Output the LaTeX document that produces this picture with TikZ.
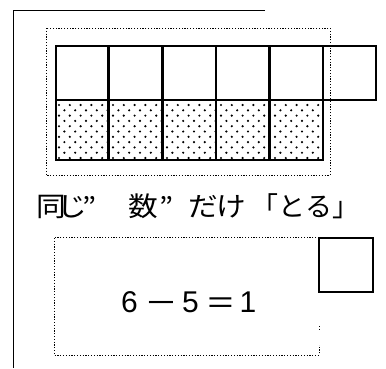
\documentclass[tikz,border=0pt]{standalone}
\usepackage{fontspec}
\newfontfamily\jp{Noto Sans CJK JP}
\newfontfamily\eqf{Liberation Sans}
\begin{document}
\begin{tikzpicture}[x=1pt,y=-1pt,
  frame/.style={line width=0.9pt},
  dotbox/.style={line width=0.7pt,dash pattern=on 1.2pt off 1.6pt},
  cell/.style={line width=2.8pt},
  jch/.style={font=\jp\fontsize{27}{30}\selectfont, inner sep=0pt, xscale=1.1},
  eqd/.style={font=\eqf\fontsize{30}{32}\selectfont, inner sep=0pt, anchor=base},
]
\useasboundingbox (0,0) rectangle (386,368);
% outer frame
\draw[frame] (265,10) -- (13,10) -- (13,368);
% dotted box around the grid
\draw[dotbox] (46,28) rectangle (330,175);
% dotted fill of lower row
\begin{scope}
\clip (56,100) rectangle (323,160);
\foreach \r in {0,...,12}{
  \foreach \c in {0,...,26}{
    \pgfmathsetmacro{\xx}{59+\c*10.8+mod(\r,2)*5.4}
    \pgfmathsetmacro{\yy}{105+\r*5.3}
    \fill (\xx,\yy) circle (1.2pt);
  }
}
\end{scope}
% grid
\draw[cell] (56,46) rectangle (376,100);
\draw[cell] (56,100) rectangle (323,160);
\foreach \x in {108.5,162.5,216,269.5,323}{
  \draw[cell] (\x,46) -- (\x,160);
}
% caption
\node[jch] (c1) at (51,206.5) {同};
\node[jch] (c2) at (72,206.5) {じ};
\node[jch] (c3) at (90,206.5) {”};
\node[jch] (c4) at (143,206.5) {数};
\node[jch] (c5) at (167,206.5) {”};
\node[jch] (c6) at (203,206.5) {だ};
\node[jch] (c7) at (231,206.5) {け};
\node[jch, xscale=1/1.1] (c8) at (305,206.5) {「とる」};
% lower dotted box
\draw[dotbox] (319,237) -- (54,237) -- (54,355) -- (319,355) -- (319,345);
\draw[dotbox] (319,326) -- (319,330);
% square
\draw[cell] (319,238) rectangle (373,292);
% equation
\node[eqd] (e1) at (129.5,312) {6};
\node[eqd, xscale=1.65] (e2) at (161,312) {−};
\node[eqd] (e3) at (190.5,312) {5};
\node[eqd, xscale=1.5] (e4) at (220.5,312) {=};
\node[eqd] (e5) at (248,312) {1};
\end{tikzpicture}
\end{document}
